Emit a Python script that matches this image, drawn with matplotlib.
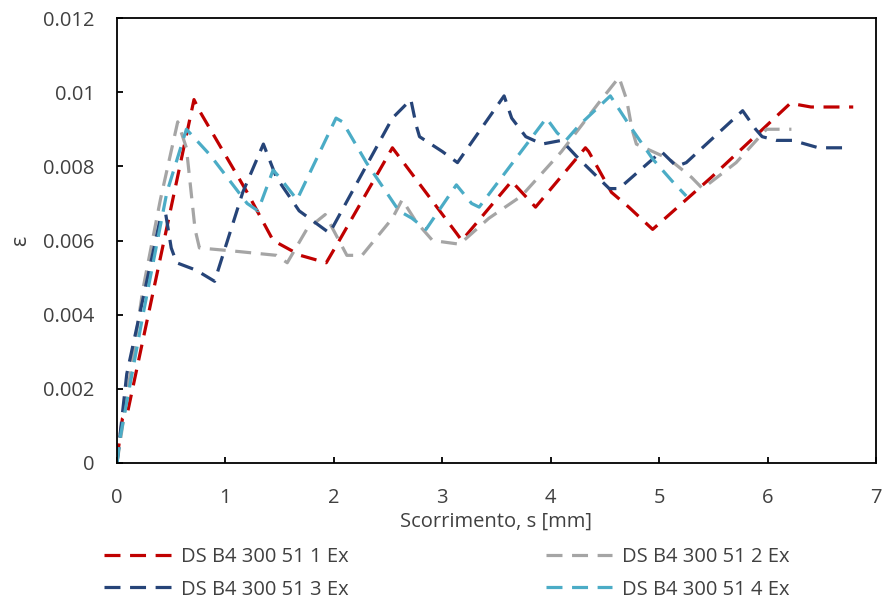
import numpy as np
import matplotlib as mpl
mpl.use('Agg')
import matplotlib.pyplot as plt

plt.rcParams['font.family'] = ['Open Sans', 'DejaVu Sans']

labels = ['DS B4 300 51 1 Ex', 'DS B4 300 51 2 Ex', 'DS B4 300 51 3 Ex', 'DS B4 300 51 4 Ex']
colors = ['#C00000', '#A5A5A5', '#264478', '#4BACC6']

## series 1 (red)
s1_x = [0, 0.05, 0.1, 0.71, 0.76, 1.2, 1.44, 1.69, 1.93, 2.05, 2.54, 3.13, 3.18, 3.64, 3.67, 3.86,
        4.32, 4.35, 4.56, 4.72, 4.94, 5.48, 6.21, 6.4, 6.79]
s1_y = [0.0001, 0.0012, 0.0014, 0.0098, 0.0095, 0.0073, 0.0060, 0.0056, 0.0054, 0.0060, 0.0085, 0.0062,
        0.0060, 0.0076, 0.0075, 0.0069, 0.0085, 0.0084, 0.0073, 0.0069, 0.0063, 0.0077, 0.0097, 0.0096, 0.0096]

## series 2 (gray)
s2_x = [0, 0.24, 0.40, 0.56, 0.64, 0.72, 0.76, 1.13, 1.47, 1.57, 1.75, 1.92, 2.12, 2.26, 2.54, 2.63,
        2.76, 2.91, 3.16, 3.43, 3.73, 4.10, 4.44, 4.63, 4.70, 4.75, 4.79, 5.09, 5.30, 5.40, 5.71, 5.99, 6.22]
s2_y = [0, 0.0047, 0.0071, 0.0092, 0.0085, 0.0063, 0.0058, 0.0057, 0.0056, 0.0054, 0.0063, 0.0067,
        0.0056, 0.0056, 0.0066, 0.0071, 0.0065, 0.0060, 0.0059, 0.0066, 0.0072, 0.0084, 0.0097, 0.0104,
        0.0098, 0.0090, 0.0086, 0.0082, 0.0077, 0.0074, 0.0081, 0.0090, 0.0090]

## series 3 (dark blue)
s3_x = [0, 0.09, 0.40, 0.45, 0.50, 0.55, 0.73, 0.90, 1.16, 1.35, 1.47, 1.68, 1.96, 2.54, 2.71, 2.76,
        2.79, 3.00, 3.14, 3.57, 3.64, 3.77, 3.92, 4.10, 4.26, 4.54, 4.63, 5.02, 5.16, 5.25, 5.77, 5.89,
        5.95, 6.08, 6.23, 6.35, 6.47, 6.75]
s3_y = [0, 0.0024, 0.0066, 0.0067, 0.0058, 0.0054, 0.0052, 0.0049, 0.0073, 0.0086, 0.0077, 0.0068,
        0.0062, 0.0093, 0.0098, 0.0091, 0.0088, 0.0084, 0.0081, 0.0099, 0.0093, 0.0088, 0.0086, 0.0087,
        0.0082, 0.0074, 0.0074, 0.0084, 0.0080, 0.0081, 0.0095, 0.0090, 0.0088, 0.0087, 0.0087, 0.0086,
        0.0085, 0.0085]

## series 4 (light blue)
s4_x = [0, 0.03, 0.24, 0.46, 0.64, 0.86, 1.20, 1.30, 1.44, 1.50, 1.66, 2.02, 2.08, 2.30, 2.60, 2.72,
        2.85, 3.13, 3.27, 3.34, 3.96, 4.06, 4.14, 4.26, 4.55, 4.75, 4.94, 5.12, 5.25]
s4_y = [0, 0.0007, 0.0040, 0.0073, 0.0090, 0.0083, 0.0070, 0.0068, 0.0079, 0.0077, 0.0071, 0.0093,
        0.0092, 0.0081, 0.0068, 0.0066, 0.0063, 0.0075, 0.0070, 0.0069, 0.0093, 0.0089, 0.0087, 0.0091,
        0.0099, 0.0090, 0.0082, 0.0076, 0.0072]

xs = [s1_x, s2_x, s3_x, s4_x]
ys = [s1_y, s2_y, s3_y, s4_y]

fs = 14.5
txtc = '#404040'

fig = plt.figure(figsize=(8.82, 6.03), dpi=100)
ax = fig.add_axes([117/882, 1-463/603, (876-117)/882, (463-18)/603])

lines = []
for i in range(4):
    l, = ax.plot(xs[i], ys[i], color=colors[i], lw=2.3, dashes=(5, 3), label=labels[i])
    lines.append(l)

ax.set_xlim(0, 7)
ax.set_ylim(0, 0.012)
ax.set_xticks(np.arange(0, 8, 1))
ax.set_yticks(np.arange(0, 0.0121, 0.002))
ax.set_yticklabels(['0', '0.002', '0.004', '0.006', '0.008', '0.01', '0.012'])
ax.tick_params(direction='in', length=4, width=1.3, labelsize=fs, colors='black', pad=16,
               labelcolor=txtc)
ax.tick_params(axis='x', pad=18)
for s in ax.spines.values():
    s.set_linewidth(1.3)
ax.set_xlabel('Scorrimento, s [mm]', fontsize=fs, labelpad=3, color=txtc)
ax.set_ylabel('ε', fontsize=fs + 1, labelpad=9, color=txtc)

order = [0, 2, 1, 3]
fig.legend([lines[i] for i in order], [labels[i] for i in order], ncol=2,
           loc='upper left', bbox_to_anchor=(98/882, 1-541/603), frameon=False,
           fontsize=fs, handlelength=3.3, handletextpad=0.5, columnspacing=9.8,
           labelspacing=0.62, labelcolor=txtc, borderaxespad=0, borderpad=0.3)

fig.savefig('out.png', dpi=100)
